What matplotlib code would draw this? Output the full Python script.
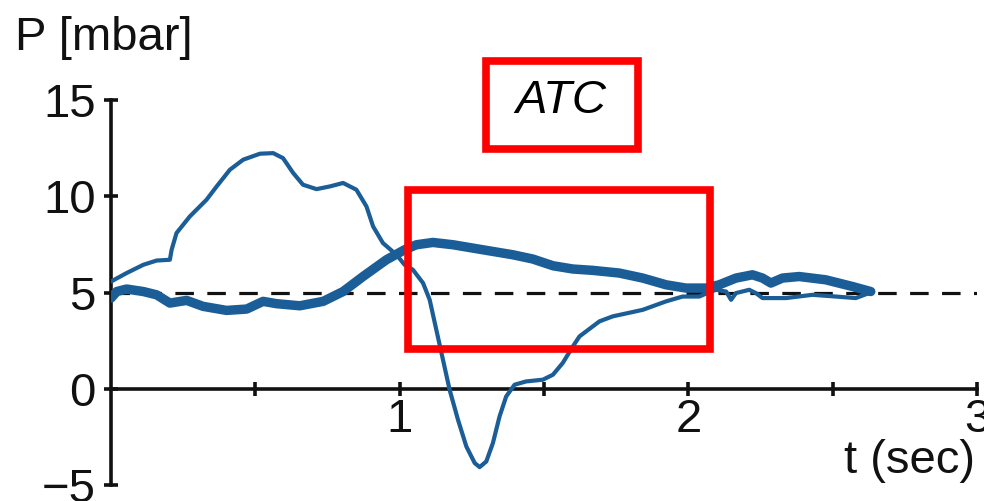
import numpy as np
import matplotlib
matplotlib.use('Agg')
import matplotlib.pyplot as plt
from matplotlib.patches import Rectangle

plt.rcParams['font.family'] = ['Liberation Sans', 'DejaVu Sans']

# thin trace
t_thin = [0.0, 0.054, 0.112, 0.158, 0.204, 0.210, 0.227, 0.273, 0.331, 0.366, 0.412,
          0.458, 0.516, 0.562, 0.596, 0.631, 0.665, 0.712, 0.758, 0.804, 0.850, 0.885,
          0.908, 0.942, 0.989, 1.017, 1.046, 1.081, 1.104, 1.127, 1.150, 1.173, 1.202,
          1.231, 1.260, 1.277, 1.300, 1.323, 1.346, 1.369, 1.398, 1.438, 1.496, 1.531,
          1.565, 1.600, 1.623, 1.646, 1.669, 1.692, 1.738, 1.842, 1.923, 1.980, 2.038,
          2.061, 2.096, 2.131, 2.148, 2.165, 2.211, 2.234, 2.257, 2.338, 2.430, 2.511,
          2.580, 2.626]
p_thin = [5.57, 6.01, 6.44, 6.66, 6.70, 7.22, 8.09, 8.95, 9.82, 10.51, 11.38,
          11.90, 12.21, 12.24, 11.98, 11.21, 10.60, 10.37, 10.51, 10.69, 10.34, 9.47,
          8.43, 7.57, 6.96, 6.44, 6.18, 5.49, 4.62, 3.06, 1.51, -0.05, -1.61,
          -3.0, -3.86, -4.07, -3.78, -2.82, -1.44, -0.4, 0.21, 0.38, 0.47, 0.73,
          1.34, 2.20, 2.72, 2.98, 3.24, 3.50, 3.76, 4.10, 4.54, 4.79, 4.79,
          4.94, 5.14, 5.05, 4.62, 4.97, 5.14, 4.97, 4.71, 4.71, 4.88, 4.79,
          4.71, 4.97]

# thick trace
t_thick = [0.0, 0.02, 0.054, 0.112, 0.158, 0.204, 0.262, 0.319, 0.40, 0.47, 0.527,
           0.573, 0.654, 0.735, 0.804, 0.873, 0.954, 1.017, 1.058, 1.115, 1.185, 1.288,
           1.392, 1.461, 1.531, 1.600, 1.669, 1.761, 1.842, 1.923, 1.992, 2.061, 2.107,
           2.165, 2.222, 2.257, 2.286, 2.326, 2.384, 2.476, 2.569, 2.632]
p_thick = [4.71, 5.05, 5.18, 5.05, 4.88, 4.45, 4.59, 4.28, 4.07, 4.14, 4.54,
           4.42, 4.31, 4.54, 5.05, 5.83, 6.70, 7.22, 7.48, 7.60, 7.48, 7.22,
           6.96, 6.74, 6.39, 6.22, 6.15, 6.01, 5.75, 5.40, 5.23, 5.23, 5.40,
           5.75, 5.92, 5.75, 5.49, 5.75, 5.83, 5.66, 5.31, 5.05]

baseline = 5
box_title = (1.298, 12.44, 1.825, 17.0)
box_zoom = (1.029, 2.04, 2.075, 10.31)

col = '#1b5e97'

fig = plt.figure(figsize=(9.84, 5.01), dpi=100)
ax = fig.add_axes([111/984, 16/501, 866/984, 385/501])
ax.set_xlim(0, 3)
ax.set_ylim(-5, 15)

ax.plot([0, 3], [baseline, baseline], color='#111111', lw=2.3,
        linestyle=(0, (5.8, 4.2)), zorder=1)
ax.plot(t_thin, p_thin, color=col, lw=3, solid_joinstyle='round',
        solid_capstyle='round', zorder=3)
ax.plot(t_thick, p_thick, color=col, lw=6.8, solid_joinstyle='round',
        solid_capstyle='round', zorder=3)

for (x0, y0, x1, y1) in [box_title, box_zoom]:
    ax.add_patch(Rectangle((x0, y0), x1 - x0, y1 - y0, fill=False, ec='#ff0000',
                           lw=5.5, joinstyle='miter', clip_on=False, zorder=4))

ax.text(1.56, 14.95, 'ATC', style='italic', fontsize=34, ha='center', va='center')

for s in ['top', 'right']:
    ax.spines[s].set_visible(False)
ax.spines['bottom'].set_position(('data', 0))
ax.spines['left'].set_position(('data', 0))
for s in ['bottom', 'left']:
    ax.spines[s].set_linewidth(2.6)
    ax.spines[s].set_color('#111111')
ax.spines['left'].set_bounds(-5, 15)

ax.set_yticks([-5, 0, 5, 10, 15])
ax.set_yticklabels(['\u22125', '0', '5', '10', '15'])
ax.set_xticks([0.5, 1, 1.5, 2, 2.5, 3])
ax.set_xticklabels(['', '1', '', '2', '', '3'])
ax.tick_params(direction='inout', length=10, width=2.6, color='#111111',
               labelsize=34, labelcolor='#111111')
ax.tick_params(axis='y', pad=6)
ax.tick_params(axis='x', pad=2)

fig.text(15/984, 1 - 50/501, 'P [mbar]', fontsize=34, ha='left', va='baseline', color='#111111')
fig.text(975/984, 1 - 473/501, 't (sec)', fontsize=34, ha='right', va='baseline', color='#111111')

fig.savefig('out.png', dpi=100)
